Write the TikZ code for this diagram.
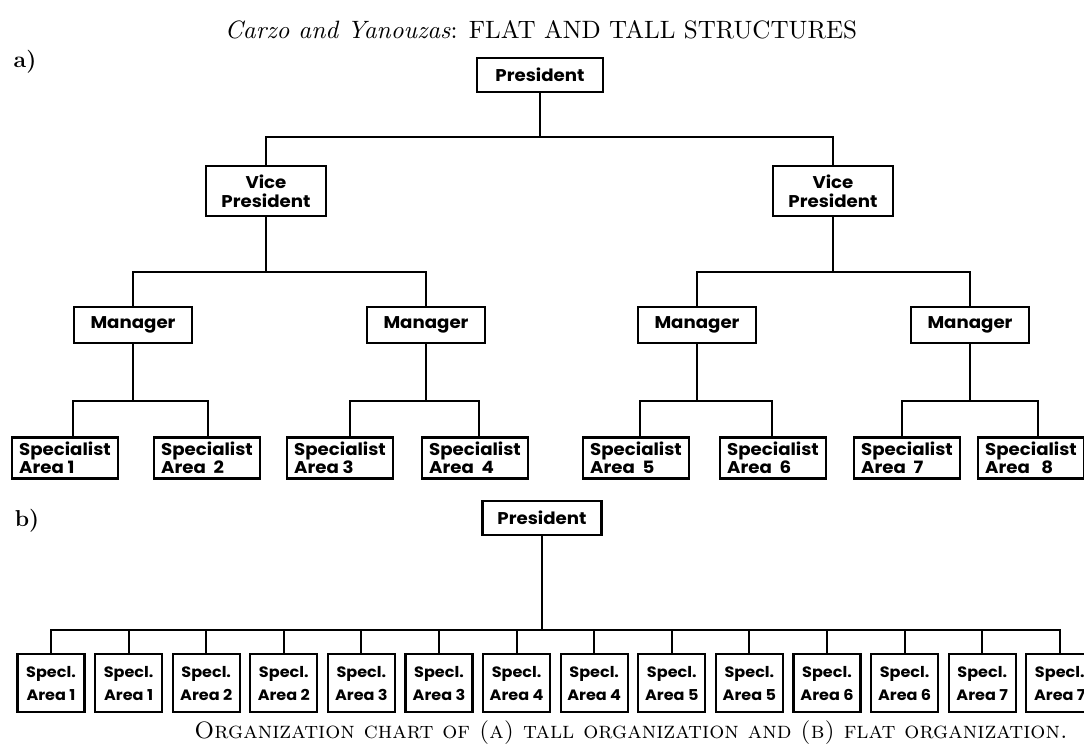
\documentclass[tikz,border=0pt]{standalone}
\usepackage{fontspec}
\usepackage{graphicx}
\newfontfamily\chartfont{Poppins}[FakeStretch=1.07]
\begin{document}
\begin{tikzpicture}[x=1pt,y=-1pt,
  box/.style={draw, line width=2.3pt, inner sep=0pt, align=center,
    font=\chartfont\bfseries\fontsize{17}{19}\selectfont},
  topbox/.style={box, minimum width=126pt, minimum height=34pt},
  vpbox/.style={box, minimum width=120pt, minimum height=50pt},
  mgrbox/.style={box, minimum width=118pt, minimum height=36pt},
  specbox/.style={box, minimum width=106pt, minimum height=41pt, align=left,
    inner xsep=3pt, font=\chartfont\bfseries\fontsize{17}{18}\selectfont},
  flatbox/.style={box, minimum width=67pt, minimum height=58pt,
    font=\chartfont\bfseries\fontsize{15}{23}\selectfont},
  link/.style={line width=2.1pt},
  part/.style={font=\bfseries\fontsize{23}{26}\selectfont}]
\useasboundingbox (0,0) rectangle (1084,747);

% heading and caption
\node (title) at (541,30) {\resizebox{632pt}{!}{\textit{Carzo and Yanouzas}: FLAT AND TALL STRUCTURES}};
\node (caption) at (631,733) {\resizebox{873pt}{!}{\textsc{Organization chart of (a) tall organization and (b) flat organization.}}};
\node[part] (lblA) at (25,62) {a)};
\node[part] (lblB) at (27,521) {b)};

% ---- (a) tall organization ----
\node[topbox] (pres) at (540,75) {President};
\node[vpbox] (vp1) at (266,191) {Vice\\President};
\node[vpbox] (vp2) at (833,191) {Vice\\President};
\node[mgrbox] (m1) at (133,325) {Manager};
\node[mgrbox] (m2) at (426,325) {Manager};
\node[mgrbox] (m3) at (697,325) {Manager};
\node[mgrbox] (m4) at (970,325) {Manager};
\node[specbox] (s1) at (65,458)  {Specialist\\Area 1};
\node[specbox] (s2) at (207,458) {Specialist\\Area\ \ 2};
\node[specbox] (s3) at (340,458) {Specialist\\Area 3};
\node[specbox] (s4) at (475,458) {Specialist\\Area\ \ 4};
\node[specbox] (s5) at (636,458) {Specialist\\Area\ \ 5};
\node[specbox] (s6) at (773,458) {Specialist\\Area\ \ 6};
\node[specbox] (s7) at (907,458) {Specialist\\Area\ \ 7};
\node[specbox] (s8) at (1031,458) {Specialist\\Area\ \ \ 8};

\coordinate (busP) at (pres.south |- 0,137);
\draw[link] (vp1.north) |- (busP) -| (vp2.north);
\draw[link] (pres.south) -- (busP);

\coordinate (busV1) at (vp1.south |- 0,272);
\coordinate (busV2) at (vp2.south |- 0,272);
\draw[link] (m1.north) |- (busV1) -| (m2.north);
\draw[link] (vp1.south) -- (busV1);
\draw[link] (m3.north) |- (busV2) -| (m4.north);
\draw[link] (vp2.south) -- (busV2);

\coordinate (busM1) at (m1.south |- 0,401);
\coordinate (busM2) at (m2.south |- 0,401);
\coordinate (busM3) at (m3.south |- 0,401);
\coordinate (busM4) at (m4.south |- 0,401);
\draw[link] ([xshift=8pt]s1.north) |- (busM1) -| ([xshift=1pt]s2.north);
\draw[link] (m1.south) -- (busM1);
\draw[link] ([xshift=10pt]s3.north) |- (busM2) -| ([xshift=4pt]s4.north);
\draw[link] (m2.south) -- (busM2);
\draw[link] ([xshift=4pt]s5.north) |- (busM3) -| ([xshift=-1pt]s6.north);
\draw[link] (m3.south) -- (busM3);
\draw[link] ([xshift=-5pt]s7.north) |- (busM4) -| ([xshift=7pt]s8.north);
\draw[link] (m4.south) -- (busM4);

% ---- (b) flat organization ----
\node[topbox, minimum width=119pt] (presB) at (542,518) {President};
\foreach \i/\a in {0/1,1/1,2/2,3/2,4/3,5/3,6/4,7/4,8/5,9/5,10/6,11/6,12/7,13/7}{
  \node[flatbox] (b\i) at ({51+77.6*\i},683) {Specl.\\Area \a};
}
\coordinate (busB) at (presB.south |- 0,630);
\draw[link] (b0.north) |- (busB) -| (b13.north);
\draw[link] (presB.south) -- (busB);
\foreach \i in {1,...,12}{
  \draw[link] (b\i.north) -- (b\i.north |- busB);
}
\end{tikzpicture}
\end{document}
